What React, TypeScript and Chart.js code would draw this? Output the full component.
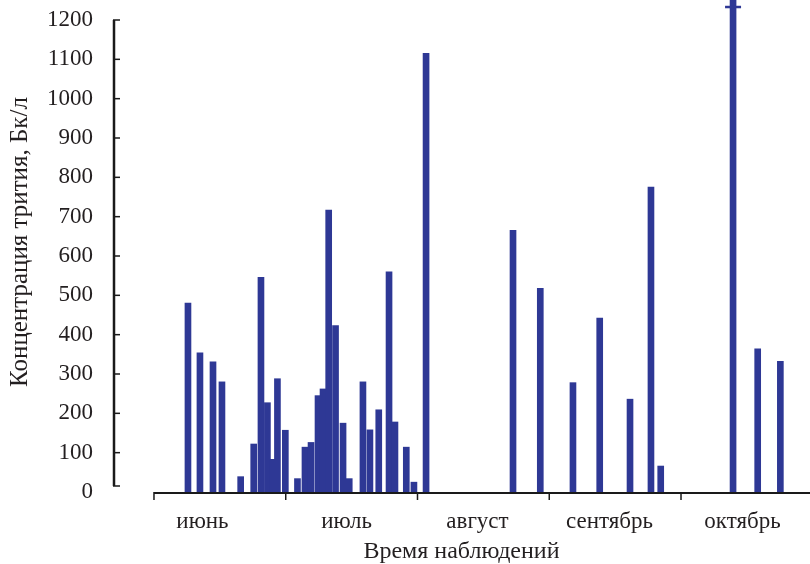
import React, { useEffect, useRef } from "react";
import { Chart, registerables } from "chart.js";

Chart.register(...registerables);

// x positions in months since 1 June (0 = start of June), y in Bq/L
const barMonths = [
  0.258, 0.349, 0.448, 0.516, 0.658, 0.757, 0.812, 0.861, 0.899, 0.937, 0.997,
  1.089, 1.146, 1.192, 1.245, 1.283, 1.326, 1.378, 1.435, 1.482, 1.586, 1.639,
  1.706, 1.784, 1.829, 1.915, 1.973, 2.065, 2.725, 2.932, 3.18, 3.383, 3.613,
  3.772, 3.846, 4.395, 4.582, 4.754,
];
const barValues = [
  480, 354, 331, 280, 39, 122, 546, 227, 83, 288, 157, 34, 114, 126, 245, 262,
  717, 423, 175, 34, 280, 158, 209, 560, 178, 114, 25, 1115, 665, 518, 278, 442,
  236, 775, 66, 1251, 364, 332,
];
// crossbar marker on the off-scale October bar
const capMonths = [4.395];
const capValues = [1233];

const monthLabels = ["июнь", "июль", "август", "сентябрь", "октябрь"];
const monthLabelPos = [0.368, 1.462, 2.455, 3.457, 4.467];
const monthBoundaries = [0, 1, 2, 3, 4];
const yTickValues = [0, 100, 200, 300, 400, 500, 600, 700, 800, 900, 1000, 1100, 1200];

const yTitle = "Концентрация трития, Бк/л";
const xTitle = "Время наблюдений";

const FONT = "'Liberation Serif', 'Times New Roman', serif";
const TEXT = "#231f20";
const BAR = "#2e3895";

export default function App() {
  const ref = useRef<HTMLCanvasElement | null>(null);
  useEffect(() => {
    if (!ref.current) return;
    const axesPlugin = {
      id: "axesPlugin",
      afterDatasetsDraw(chart: any) {
        const { ctx, chartArea, scales } = chart;
        const x = scales.x;
        const y = scales.y;
        ctx.save();
        // cap marker
        ctx.strokeStyle = BAR;
        ctx.lineWidth = 2.5;
        capMonths.forEach((m, i) => {
          const px = x.getPixelForValue(m);
          const py = y.getPixelForValue(capValues[i]);
          ctx.beginPath();
          ctx.moveTo(px - 8, py);
          ctx.lineTo(px + 8, py);
          ctx.stroke();
        });
        ctx.strokeStyle = "#1a1a1a";
        // y axis
        ctx.lineWidth = 2.5;
        ctx.beginPath();
        ctx.moveTo(chartArea.left + 1, y.getPixelForValue(1200));
        ctx.lineTo(chartArea.left + 1, y.getPixelForValue(0) - 6);
        ctx.stroke();
        ctx.lineWidth = 1.5;
        yTickValues.forEach((v) => {
          const py = v === 0 ? y.getPixelForValue(0) - 6 : y.getPixelForValue(v);
          ctx.beginPath();
          ctx.moveTo(chartArea.left, py);
          ctx.lineTo(chartArea.left + 7, py);
          ctx.stroke();
        });
        // x axis
        const y0 = y.getPixelForValue(0) + 1;
        ctx.lineWidth = 2;
        ctx.beginPath();
        ctx.moveTo(x.getPixelForValue(0), y0);
        ctx.lineTo(chartArea.right, y0);
        ctx.stroke();
        ctx.lineWidth = 1.5;
        monthBoundaries.forEach((m) => {
          const px = x.getPixelForValue(m);
          ctx.beginPath();
          ctx.moveTo(px, y0 - 1);
          ctx.lineTo(px, y0 + 7);
          ctx.stroke();
        });
        // y title
        ctx.fillStyle = TEXT;
        ctx.font = `25px ${FONT}`;
        ctx.textAlign = "center";
        ctx.textBaseline = "middle";
        ctx.translate(20, 242);
        ctx.rotate(-Math.PI / 2);
        ctx.fillText(yTitle, 0, 0);
        ctx.restore();
      },
    };

    const chart = new Chart(ref.current, {
      type: "bar",
      data: {
        datasets: [
          {
            type: "bar",
            data: barMonths.map((m, i) => ({ x: m, y: barValues[i] })),
            backgroundColor: BAR,
            borderWidth: 0,
            barThickness: 6,
            clip: false as any,
          },
        ],
      },
      options: {
        animation: false,
        responsive: true,
        maintainAspectRatio: false,
        layout: { autoPadding: false, padding: { top: 20, right: 0, left: 0, bottom: 0 } },
        plugins: { legend: { display: false }, tooltip: { enabled: false } },
        scales: {
          x: {
            type: "linear",
            offset: false,
            min: -0.311,
            max: 4.979,
            grid: { display: false, offset: false },
            border: { display: false },
            afterBuildTicks: (scale: any) => {
              scale.ticks = monthLabelPos.map((v) => ({ value: v }));
            },
            afterFit: (scale: any) => {
              scale.height = 72;
              scale.paddingLeft = 0;
              scale.paddingRight = 0;
            },
            ticks: {
              autoSkip: false,
              maxRotation: 0,
              padding: 8,
              color: TEXT,
              font: { family: FONT, size: 23 },
              callback: (_v: any, i: number) => monthLabels[i],
            },
            title: {
              display: true,
              text: xTitle,
              color: TEXT,
              font: { family: FONT, size: 24, lineHeight: 1 },
              padding: { top: 0, bottom: 0 },
            },
          },
          y: {
            type: "linear",
            min: 0,
            max: 1200,
            grid: { display: false },
            border: { display: false },
            afterFit: (scale: any) => {
              scale.width = 113;
              scale.paddingTop = 0;
              scale.paddingBottom = 0;
            },
            ticks: {
              stepSize: 100,
              padding: 12,
              color: TEXT,
              font: { family: FONT, size: 23 },
              callback: (v: any) => String(v),
            },
          },
        },
      },
      plugins: [axesPlugin],
    } as any);
    return () => chart.destroy();
  }, []);

  return (
    <div style={{ position: "fixed", left: 0, top: 0, width: 810, height: 564, background: "#fff" }}>
      <canvas ref={ref} />
    </div>
  );
}
